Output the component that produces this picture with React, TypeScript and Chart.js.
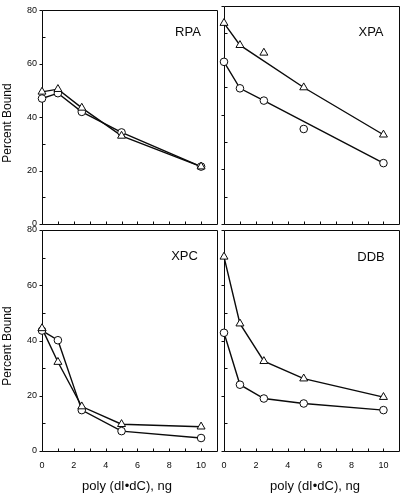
import React, { useEffect, useRef } from "react";
import { Chart, registerables } from "chart.js";

Chart.register(...registerables);

// ---- data ----
const doses = [0, 1, 2.5, 5, 10];
const xTickLabels = [0, 2, 4, 6, 8, 10];
const xMinorTicks = [0, 1, 2, 3, 4, 5, 6, 7, 8, 9, 10];
const yTickLabels = [0, 20, 40, 60, 80];
const yMinorTicks = [10, 30, 50, 70];

const rpaTriangle = [49.5, 50.5, 43.5, 33, 21.5];
const rpaCircle = [47, 49, 42, 34.3, 21.5];

const xpaTriangle = [73.6, 65.5, 62.7, 50, 32.7];
const xpaCircle = [59.4, 49.7, 45.2, 34.8, 22.3];
// fitted lines drawn through XPA (not every point is on the line)
const xpaTriangleLine = [73.6, 65.5, null, 50, 32.7];
const xpaCircleLine = [59.4, 49.7, 45.2, null, 22.3];

const xpcTriangle = [44.4, 32.2, 16.1, 9.7, 8.8];
const xpcCircle = [43.6, 40.1, 14.8, 7.2, 4.7];

const ddbTriangle = [70.3, 46.1, 32.5, 26.2, 19.5];
const ddbCircle = [42.8, 24, 19, 17.2, 14.8];

const panelLabels = ["RPA", "XPA", "XPC", "DDB"];
const yTitle = "Percent Bound";
const xTitle = "poly (dI\u2022dC), ng";

// ---- layout ----
const W = 405;
const H = 494;
const YW = 20;
const XH = 20;
const FONT = "'Liberation Sans', Arial, Helvetica, sans-serif";
const INK = "#0a0a0a";

const toPts = (vals: (number | null)[]) =>
  doses
    .map((x, i) => ({ x, y: vals[i] }))
    .filter((p) => p.y !== null) as { x: number; y: number }[];

type Txt = { text: string; x: number; y: number; size: number; rotate?: boolean };

type PanelCfg = {
  area: { l: number; t: number; r: number; b: number };
  tri: number[];
  circ: number[];
  triLine: (number | null)[];
  circLine: (number | null)[];
  showY: boolean;
  showX: boolean;
  texts: Txt[];
};

const panels: PanelCfg[] = [
  {
    area: { l: 42, t: 4, r: 217, b: 224 },
    tri: rpaTriangle,
    circ: rpaCircle,
    triLine: rpaTriangle,
    circLine: rpaCircle,
    showY: true,
    showX: false,
    texts: [
      { text: panelLabels[0], x: 188, y: 32, size: 13 },
      { text: yTitle, x: 8, y: 123, size: 12, rotate: true },
    ],
  },
  {
    area: { l: 224, t: 4, r: 403, b: 224 },
    tri: xpaTriangle,
    circ: xpaCircle,
    triLine: xpaTriangleLine,
    circLine: xpaCircleLine,
    showY: false,
    showX: false,
    texts: [{ text: panelLabels[1], x: 371, y: 32, size: 13 }],
  },
  {
    area: { l: 42, t: 230, r: 217, b: 451 },
    tri: xpcTriangle,
    circ: xpcCircle,
    triLine: xpcTriangle,
    circLine: xpcCircle,
    showY: true,
    showX: true,
    texts: [
      { text: panelLabels[2], x: 184.5, y: 256, size: 13 },
      { text: yTitle, x: 8, y: 346, size: 12, rotate: true },
      { text: xTitle, x: 127, y: 486, size: 13 },
    ],
  },
  {
    area: { l: 224, t: 230, r: 403, b: 451 },
    tri: ddbTriangle,
    circ: ddbCircle,
    triLine: ddbTriangle,
    circLine: ddbCircle,
    showY: false,
    showX: true,
    texts: [
      { text: panelLabels[3], x: 371, y: 257, size: 13 },
      { text: xTitle, x: 315, y: 486, size: 13 },
    ],
  },
];

const decorPlugin = {
  id: "panelDecor",
  beforeDatasetsDraw(chart: any) {
    const { ctx, chartArea: a, scales } = chart;
    const x = scales.x;
    const y = scales.y;
    const L = Math.round(a.left) + 0.5;
    const R = Math.round(a.right) + 0.5;
    const T = Math.round(a.top) + 0.5;
    const B = Math.round(a.bottom) + 0.5;
    ctx.save();
    ctx.strokeStyle = INK;
    ctx.lineWidth = 1;
    ctx.beginPath();
    ctx.moveTo(L, T);
    ctx.lineTo(R, T);
    ctx.lineTo(R, B);
    ctx.lineTo(L, B);
    ctx.closePath();
    // x ticks (inward)
    xMinorTicks.forEach((v) => {
      const px = Math.round(x.getPixelForValue(v)) + 0.5;
      ctx.moveTo(px, B);
      ctx.lineTo(px, B - 3);
    });
    // y major ticks (outward)
    yTickLabels.forEach((v) => {
      const py = Math.round(y.getPixelForValue(v)) + 0.5;
      ctx.moveTo(L - 3, py);
      ctx.lineTo(L, py);
    });
    // y minor ticks (inward)
    yMinorTicks.forEach((v) => {
      const py = Math.round(y.getPixelForValue(v)) + 0.5;
      ctx.moveTo(L, py);
      ctx.lineTo(L + 3, py);
    });
    ctx.stroke();
    ctx.restore();
  },
  afterDraw(chart: any, _args: any, opts: any) {
    const { ctx } = chart;
    const texts: Txt[] = opts.texts || [];
    ctx.save();
    ctx.fillStyle = INK;
    ctx.textAlign = "center";
    ctx.textBaseline = "middle";
    texts.forEach((t) => {
      ctx.font = `${t.size}px ${FONT}`;
      if (t.rotate) {
        ctx.save();
        ctx.translate(t.x, t.y);
        ctx.rotate(-Math.PI / 2);
        ctx.fillText(t.text, 0, 0);
        ctx.restore();
      } else {
        ctx.fillText(t.text, t.x, t.y);
      }
    });
    ctx.restore();
  },
};

function Panel({ cfg }: { cfg: PanelCfg }) {
  const ref = useRef<HTMLCanvasElement | null>(null);
  useEffect(() => {
    if (!ref.current) return;
    const { area } = cfg;
    const lineDs = (vals: (number | null)[]) => ({
      data: toPts(vals),
      showLine: true,
      borderColor: INK,
      borderWidth: 1.4,
      pointRadius: 0,
      order: 2,
      clip: false as any,
      tension: 0,
    });
    const markDs = (vals: number[], style: string, r: number) => ({
      data: toPts(vals),
      showLine: false,
      pointStyle: style,
      pointRadius: r,
      backgroundColor: "#fff",
      borderColor: INK,
      borderWidth: 1,
      order: 1,
      clip: false as any,
    });
    const chart = new Chart(ref.current, {
      type: "scatter",
      data: {
        datasets: [
          lineDs(cfg.triLine),
          lineDs(cfg.circLine),
          markDs(cfg.tri, "triangle", 4.6),
          markDs(cfg.circ, "circle", 3.8),
        ] as any,
      },
      options: {
        responsive: false,
        maintainAspectRatio: false,
        animation: false,
        events: [],
        layout: {
          padding: {
            left: area.l - YW,
            top: area.t,
            right: W - area.r,
            bottom: H - area.b - XH,
          },
        },
        plugins: {
          legend: { display: false },
          tooltip: { enabled: false },
          panelDecor: { texts: cfg.texts },
        } as any,
        scales: {
          x: {
            type: "linear",
            min: 0,
            max: 11,
            afterFit: (s: any) => {
              s.height = XH;
            },
            afterBuildTicks: (s: any) => {
              s.ticks = xTickLabels.map((v) => ({ value: v }));
            },
            grid: { display: false, drawTicks: false },
            border: { display: false },
            ticks: {
              display: cfg.showX,
              padding: 9,
              color: INK,
              maxRotation: 0,
              autoSkip: false,
              font: { family: FONT, size: 9 },
            },
          },
          y: {
            type: "linear",
            min: 0,
            max: 80,
            afterFit: (s: any) => {
              s.width = YW;
            },
            afterBuildTicks: (s: any) => {
              s.ticks = yTickLabels.map((v) => ({ value: v }));
            },
            grid: { display: false, drawTicks: false },
            border: { display: false },
            ticks: {
              display: cfg.showY,
              padding: 5,
              color: INK,
              autoSkip: false,
              font: { family: FONT, size: 9 },
            },
          },
        },
      },
      plugins: [decorPlugin as any],
    });
    return () => chart.destroy();
  }, [cfg]);
  return (
    <canvas
      ref={ref}
      width={W}
      height={H}
      style={{ position: "absolute", left: 0, top: 0, width: W, height: H }}
    />
  );
}

export default function App() {
  return (
    <div
      style={{
        position: "fixed",
        left: 0,
        top: 0,
        width: W,
        height: H,
        background: "#fff",
        overflow: "hidden",
      }}
    >
      {panels.map((p, i) => (
        <Panel key={i} cfg={p} />
      ))}
    </div>
  );
}
